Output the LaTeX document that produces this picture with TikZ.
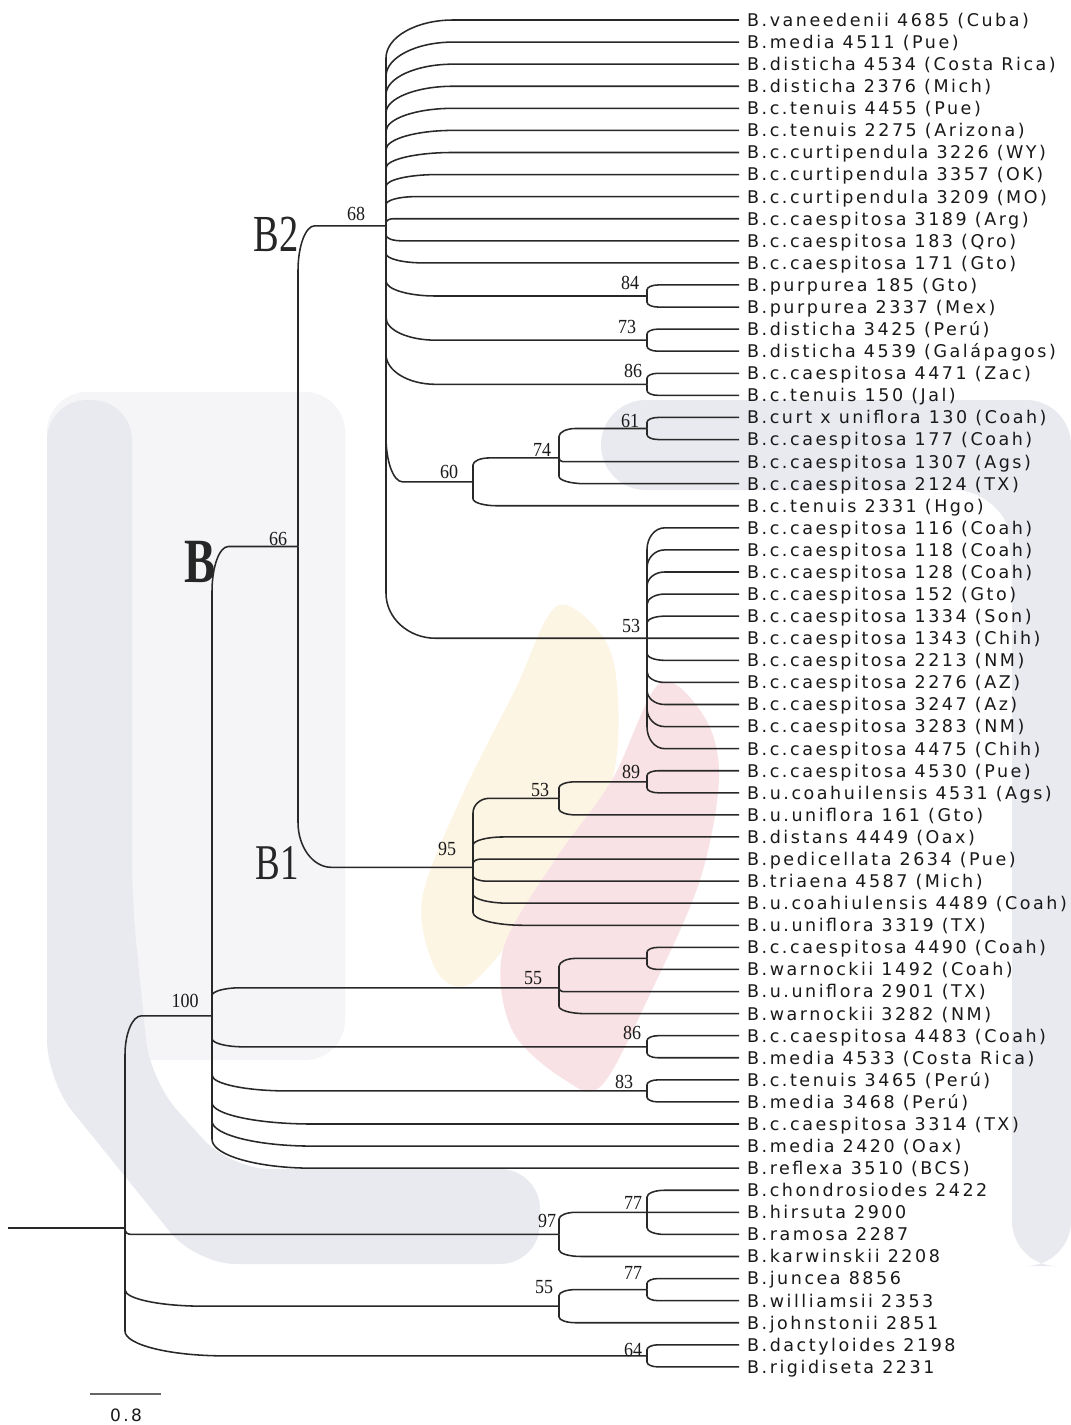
\documentclass[tikz,border=0pt]{standalone}
\usepackage{fontspec}
\setmainfont{Liberation Serif}
\newfontfamily\leaffont[LetterSpace=14.5]{DejaVu Sans}
\newfontfamily\supfont[FakeStretch=0.9]{Liberation Serif}
\newfontfamily\cladefont[FakeStretch=0.74]{Liberation Serif}
\usetikzlibrary{calc}
\definecolor{ln}{RGB}{40,40,40}
\definecolor{tx}{RGB}{25,25,25}
\definecolor{wmg}{RGB}{233,234,239}
\definecolor{wml}{RGB}{245,245,248}
\definecolor{wmo}{RGB}{253,245,228}
\definecolor{wmr}{RGB}{249,226,230}
\tikzset{
  br/.style={draw=ln, line width=1.55pt},
  leaf/.style={anchor=base west, inner sep=0pt, text=tx, font=\leaffont\fontsize{17.5}{19}\selectfont},
  sup/.style={inner sep=0pt, text=tx, font=\supfont\fontsize{20}{21}\selectfont},
  clade/.style={inner sep=0pt, text=black!85, font=\cladefont\fontsize{52}{56}\selectfont},
}
% branch from parent (#1) to child (#2), curved elbow
\newcommand\br[2]{%
  \draw[br] let \p1=(#1), \p2=(#2),
    \n1={max(abs((\y2)-(\y1)),0.01pt)},
    \n2={abs((\x2)-(\x1))},
    \n3={min(0.19*\n2,\n1)},
    \n4={min(0.17*\n1+3pt,\n1,45pt)},
    \n5={\n4/\n1} in
    (\p1) -- (\x1,{(\y2)+((\y1)-(\y2))*\n5})
    .. controls (\x1,{(\y2)+((\y1)-(\y2))*(0.45*\n5)}) and ({\x1+0.45*\n3},\y2)
    .. ({\x1+\n3},\y2) -- (\p2);}
\begin{document}
\begin{tikzpicture}[x=1pt,y=-1pt]
\useasboundingbox (0,0) rectangle (1071,1425);
\fill[white] (0,0) rectangle (1071,1425);
% ---- watermark ----
\fill[wml, rounded corners=40pt] (47,392) -- (345,392) -- (345,1060) -- (47,1060) -- cycle;
\fill[wmg, rounded corners=40pt] (47,400) -- (132,400) -- (132,900) -- (150,1080) -- (230,1169) -- (540,1169) -- (540,1264) -- (196,1264) -- (47,1080) -- cycle;
\fill[wmg, rounded corners=45pt] (601,400) -- (1071,400) -- (1071,1266) -- (1012,1266) -- (1012,540) -- (1000,490) -- (601,490) -- cycle;
\fill[wmo] plot[smooth cycle, tension=0.55] coordinates {(557,606) (605,640) (618,700) (612,780) (570,860) (515,935) (468,985) (436,970) (422,900) (460,800) (515,690)};
\fill[wmr] plot[smooth cycle, tension=0.55] coordinates {(660,683) (705,718) (719,779) (700,880) (652,990) (602,1085) (565,1080) (512,1030) (503,950) (555,860) (612,780)};
% ---- leaves ----
\foreach \i in {1,...,62} {\coordinate (c\i) at (739,{20+22.08*(\i-1)});}
% ---- internal nodes ----
\coordinate (stub) at (8,1228.05);
\coordinate (root) at (125,1228.05);
\coordinate (nB) at (212,1015.8);
\coordinate (n66) at (298,546.5);
\coordinate (nB2) at (386,225.8);
\coordinate (n84) at (647,296);
\coordinate (n73) at (647,340.16);
\coordinate (n86a) at (647,384.32);
\coordinate (n60) at (473,481.84);
\coordinate (n74) at (559,457.92);
\coordinate (n61) at (647,428.48);
\coordinate (n53a) at (647,638.24);
\coordinate (n95) at (473,867.3);
\coordinate (n53b) at (559,798.3);
\coordinate (n89) at (647,781.8);
\coordinate (n55a) at (559,987.8);
\coordinate (n55s) at (647,958.4);
\coordinate (n86b) at (647,1046.8);
\coordinate (n83) at (647,1090.9);
\coordinate (n97) at (559,1234.4);
\coordinate (n77a) at (647,1212.32);
\coordinate (n55b) at (559,1306.16);
\coordinate (n77b) at (647,1289.6);
\coordinate (n64) at (647,1355.84);
% ---- branches ----
\draw[br] (stub) -- (root);
\br{root}{nB} \br{root}{n97} \br{root}{n55b} \br{root}{n64}
\br{nB}{n66} \br{nB}{n55a} \br{nB}{n86b} \br{nB}{n83}
\br{nB}{c51} \br{nB}{c52} \br{nB}{c53}
\br{n66}{nB2} \br{n66}{n95}
\foreach \i in {1,...,12} {\br{nB2}{c\i}}
\br{nB2}{n84} \br{nB2}{n73} \br{nB2}{n86a} \br{nB2}{n60} \br{nB2}{n53a}
\br{n84}{c13} \br{n84}{c14}
\br{n73}{c15} \br{n73}{c16}
\br{n86a}{c17} \br{n86a}{c18}
\br{n60}{n74} \br{n60}{c23}
\br{n74}{n61} \br{n74}{c21} \br{n74}{c22}
\br{n61}{c19} \br{n61}{c20}
\foreach \i in {24,...,34} {\br{n53a}{c\i}}
\br{n95}{n53b}
\foreach \i in {38,...,42} {\br{n95}{c\i}}
\br{n53b}{n89} \br{n53b}{c37}
\br{n89}{c35} \br{n89}{c36}
\br{n55a}{n55s} \br{n55a}{c45} \br{n55a}{c46}
\br{n55s}{c43} \br{n55s}{c44}
\br{n86b}{c47} \br{n86b}{c48}
\br{n83}{c49} \br{n83}{c50}
\br{n97}{n77a} \br{n97}{c57}
\br{n77a}{c54} \br{n77a}{c55} \br{n77a}{c56}
\br{n55b}{n77b} \br{n55b}{c60}
\br{n77b}{c58} \br{n77b}{c59}
\br{n64}{c61} \br{n64}{c62}
% ---- leaf labels ----
\foreach \i/\lbl in {
 1/B.vaneedenii 4685 (Cuba),
 2/B.media 4511 (Pue),
 3/B.disticha 4534 (Costa Rica),
 4/B.disticha 2376 (Mich),
 5/B.c.tenuis 4455 (Pue),
 6/B.c.tenuis 2275 (Arizona),
 7/B.c.curtipendula 3226 (WY),
 8/B.c.curtipendula 3357 (OK),
 9/B.c.curtipendula 3209 (MO),
 10/B.c.caespitosa 3189 (Arg),
 11/B.c.caespitosa 183 (Qro),
 12/B.c.caespitosa 171 (Gto),
 13/B.purpurea 185 (Gto),
 14/B.purpurea 2337 (Mex),
 15/B.disticha 3425 (Perú),
 16/B.disticha 4539 (Galápagos),
 17/B.c.caespitosa 4471 (Zac),
 18/B.c.tenuis 150 (Jal),
 19/B.curt x uniflora 130 (Coah),
 20/B.c.caespitosa 177 (Coah),
 21/B.c.caespitosa 1307 (Ags),
 22/B.c.caespitosa 2124 (TX),
 23/B.c.tenuis 2331 (Hgo),
 24/B.c.caespitosa 116 (Coah),
 25/B.c.caespitosa 118 (Coah),
 26/B.c.caespitosa 128 (Coah),
 27/B.c.caespitosa 152 (Gto),
 28/B.c.caespitosa 1334 (Son),
 29/B.c.caespitosa 1343 (Chih),
 30/B.c.caespitosa 2213 (NM),
 31/B.c.caespitosa 2276 (AZ),
 32/B.c.caespitosa 3247 (Az),
 33/B.c.caespitosa 3283 (NM),
 34/B.c.caespitosa 4475 (Chih),
 35/B.c.caespitosa 4530 (Pue),
 36/B.u.coahuilensis 4531 (Ags),
 37/B.u.uniflora 161 (Gto),
 38/B.distans 4449 (Oax),
 39/B.pedicellata 2634 (Pue),
 40/B.triaena 4587 (Mich),
 41/B.u.coahiulensis 4489 (Coah),
 42/B.u.uniflora 3319 (TX),
 43/B.c.caespitosa 4490 (Coah),
 44/B.warnockii 1492 (Coah),
 45/B.u.uniflora 2901 (TX),
 46/B.warnockii 3282 (NM),
 47/B.c.caespitosa 4483 (Coah),
 48/B.media 4533 (Costa Rica),
 49/B.c.tenuis 3465 (Perú),
 50/B.media 3468 (Perú),
 51/B.c.caespitosa 3314 (TX),
 52/B.media 2420 (Oax),
 53/B.reflexa 3510 (BCS),
 54/B.chondrosiodes 2422,
 55/B.hirsuta 2900,
 56/B.ramosa 2287,
 57/B.karwinskii 2208,
 58/B.juncea 8856,
 59/B.williamsii 2353,
 60/B.johnstonii 2851,
 61/B.dactyloides 2198,
 62/B.rigidiseta 2231}
 {\node[leaf] (t\i) at ([xshift=8pt,yshift=-6.4pt]c\i) {\lbl};}
% ---- support values ----
\node[sup] (s68) at (356,214) {68};
\node[sup] (s66) at (278,539) {66};
\node[sup] (s84) at (630,283) {84};
\node[sup] (s73) at (627,327) {73};
\node[sup] (s86a) at (633,371) {86};
\node[sup] (s61) at (630,421) {61};
\node[sup] (s74) at (542,450) {74};
\node[sup] (s60) at (449,472) {60};
\node[sup] (s53a) at (631,626) {53};
\node[sup] (s89) at (631,772) {89};
\node[sup] (s53b) at (540,790) {53};
\node[sup] (s95) at (447,849) {95};
\node[sup] (s100) at (185,1001) {100};
\node[sup] (s55a) at (533,978) {55};
\node[sup] (s86b) at (632,1033) {86};
\node[sup] (s83) at (624,1082) {83};
\node[sup] (s97) at (547,1221) {97};
\node[sup] (s77a) at (633,1203) {77};
\node[sup] (s77b) at (633,1273) {77};
\node[sup] (s55b) at (544,1287) {55};
\node[sup] (s64) at (633,1350) {64};
% ---- clade names ----
\node[clade] (lB2) at (276,234) {B2};
\node[clade, font=\cladefont\bfseries\fontsize{63}{66}\selectfont] (lB) at (200,562) {B};
\node[clade, font=\cladefont\fontsize{50}{54}\selectfont] (lB1) at (277,863) {B1};
% ---- scale bar ----
\coordinate (sb1) at (90,1394);
\coordinate (sb2) at (161,1394);
\draw[draw=black!60, line width=2.2pt] (sb1) -- (sb2);
\node[leaf, anchor=base, font=\leaffont\fontsize{17}{18}\selectfont] (sbl) at (126,1421) {0.8};
\end{tikzpicture}
\end{document}
